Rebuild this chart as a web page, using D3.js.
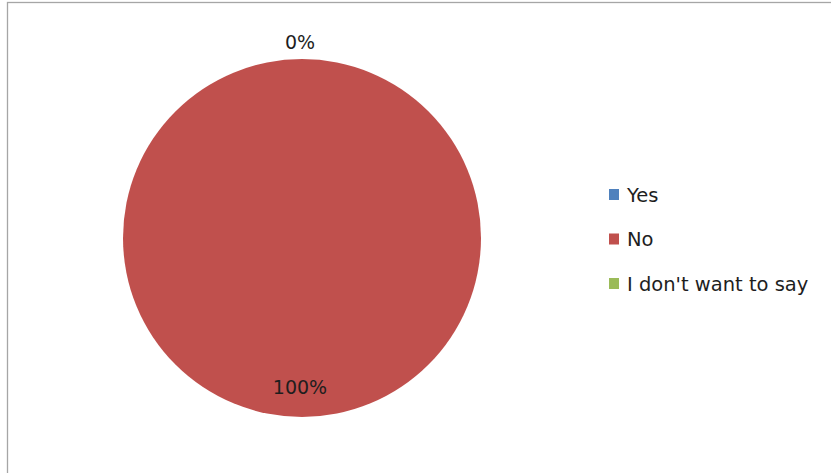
<!DOCTYPE html>
<html>
<head>
<meta charset="utf-8">
<script src="https://cdn.jsdelivr.net/npm/d3@7"></script>
<style>
  html, body { margin: 0; padding: 0; background: #fff; }
  svg { display: block; }
  text { font-family: "DejaVu Sans", "Liberation Sans", sans-serif; }
</style>
</head>
<body>
<svg id="chart" width="831" height="473"></svg>
<script>
// Survey answers and their shares (percent)
const categories = ["Yes", "No", "I don't want to say"];
const values = [0, 100, 0];
const colors = ["#4F81BD", "#C0504D", "#9BBB59"];

const svg = d3.select("#chart");
const W = 831, H = 473;

// Chart area frame
svg.append("rect")
  .attr("x", 7.5).attr("y", 2.5)
  .attr("width", W + 10).attr("height", H + 10)
  .attr("fill", "#fff")
  .attr("stroke", "#a6a6a6")
  .attr("stroke-width", 1.3);

const cx = 302, cy = 238, r = 179;
const data = categories.map((c, i) => ({ category: c, value: values[i], color: colors[i] }));

const pie = d3.pie().sort(null).value(d => d.value).startAngle(0).endAngle(2 * Math.PI);
const arcs = pie(data);
const arc = d3.arc().innerRadius(0).outerRadius(r);

const g = svg.append("g").attr("transform", `translate(${cx},${cy})`);

g.selectAll("path.slice")
  .data(arcs.filter(a => a.endAngle > a.startAngle))
  .join("path")
  .attr("class", "slice")
  .attr("d", arc)
  .attr("fill", d => d.data.color);

// Percentage labels: empty slices sit just outside the rim, others inside
const total = d3.sum(values);
const placed = new Set();
const capHalf = 7;
arcs.forEach(a => {
  const mid = (a.startAngle + a.endAngle) / 2;
  const pct = Math.round(a.data.value / total * 100);
  const rr = a.data.value === 0 ? r + 17.5 : r * 0.83;
  const x = Math.sin(mid) * rr, y = -Math.cos(mid) * rr;
  const key = Math.round(x) + "," + Math.round(y);
  if (placed.has(key)) return;
  placed.add(key);
  g.append("text")
    .attr("x", x - 2)
    .attr("y", y + capHalf)
    .attr("text-anchor", "middle")
    .attr("font-size", 19)
    .attr("fill", "#1e1e1e")
    .text(pct + "%");
});

// Legend
const legend = svg.append("g").attr("transform", "translate(609,194.5)");
const item = legend.selectAll("g.item")
  .data(data)
  .join("g")
  .attr("class", "item")
  .attr("transform", (d, i) => `translate(0,${i * 44.5})`);
item.append("rect")
  .attr("x", 0).attr("y", -5.5)
  .attr("width", 10).attr("height", 11)
  .attr("fill", d => d.color);
item.append("text")
  .attr("x", 18).attr("y", capHalf)
  .attr("font-size", 19.5)
  .attr("fill", "#1e1e1e")
  .text(d => d.category);
</script>
</body>
</html>
